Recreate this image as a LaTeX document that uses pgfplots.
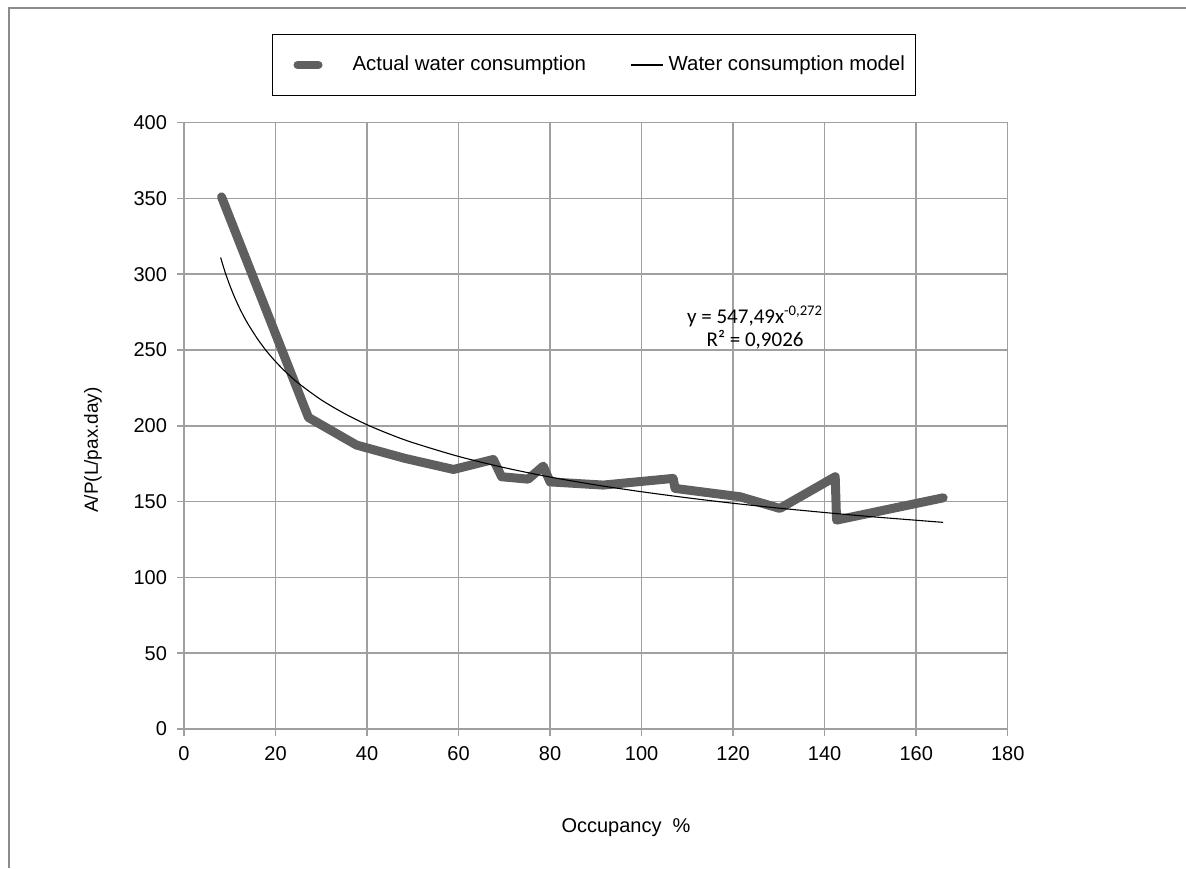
\documentclass[border=0pt]{standalone}
\usepackage{pgfplots}
\pgfplotsset{compat=1.18}
\usepackage{fontspec}
\setmainfont{Liberation Sans}
\newfontfamily\carlito{Carlito}
\definecolor{gridgray}{RGB}{160,160,160}
\definecolor{datagray}{RGB}{95,95,95}
\definecolor{framegray}{RGB}{140,140,140}
\begin{document}
\begin{tikzpicture}
\useasboundingbox (0,0) rectangle (593pt,434pt);
\draw[color=framegray, line width=0.75pt] (4.5pt,0pt) -- (4.5pt,430pt) -- (593pt,430pt);
\begin{axis}[
  at={(92pt,69.5pt)}, anchor=south west,
  scale only axis, width=411.85pt, height=303.2pt,
  xmin=0, xmax=180, ymin=0, ymax=400,
  xtick={0,20,...,180}, ytick={0,50,...,400},
  xtick pos=bottom, ytick pos=left,
  grid=major, grid style={color=gridgray, line width=0.75pt},
  axis line style={color=gridgray, line width=0.75pt},
  tick style={color=gridgray, line width=0.75pt},
  tick align=outside, major tick length=3.5pt,
  /pgf/number format/assume math mode=true,
  tick label style={font=\fontsize{10}{12}\selectfont, color=black},
  yticklabel style={xshift=-1.5pt},
  xticklabel style={yshift=-1.5pt},
  xlabel={Occupancy\ \ \%},
  ylabel={A/P(L/pax.day)},
  every axis x label/.style={at={(axis description cs:0.5366,-0.163)}, anchor=center, font=\fontsize{10}{12}\selectfont},
  every axis y label/.style={at={(axis description cs:-0.1105,0.46)}, anchor=center, rotate=90, font=\fontsize{9.5}{12}\selectfont},
  legend columns=2,
  legend style={at={(axis description cs:0.498,1.095)}, anchor=center, draw=black, line width=0.6pt,
    font=\fontsize{10.2}{12}\selectfont, inner xsep=3.5pt, inner ysep=8.75pt,
    /tikz/every even column/.append style={column sep=20pt}},
]
\addplot[color=datagray, line width=4.5pt, line join=round, line cap=round,
  legend image code/.code={\path[draw=none] (-7.5pt,0pt) -- (27pt,0pt); \draw[color=datagray, line width=4pt, line cap=round] (1.5pt,0pt) -- (12pt,0pt);}]
  coordinates {
  (8.2,351) (27.2,205.5) (37.7,187.3) (48.3,178.5) (58.9,171.2) (67.6,177.8)
  (69.4,166.4) (75.2,164.8) (78.5,173.4) (80.0,163.0) (91.6,160.9) (106.9,165.3)
  (107.3,158.7) (121.5,153.2) (130.2,145.5) (142.3,166.4) (142.6,137.8) (165.9,152.5)
  };
\addlegendentry{Actual water consumption}
\addplot[color=black, line width=0.55pt, smooth,
  legend image code/.code={\draw[color=black, line width=0.55pt] (0pt,0pt) -- (16pt,0pt); \path[draw=none] (0pt,0pt) -- (17pt,0pt);}]
  coordinates {
  (8,311.0) (9,301.2) (10,292.7) (11,285.2) (12,278.5) (13,272.5) (14,267.1)
  (16,257.6) (18,249.4) (20,242.4) (22,236.2) (25,228.1) (30,217.1) (35,208.2)
  (40,200.7) (45,194.4) (50,188.9) (60,179.8) (70,172.4) (80,166.2) (90,161.0)
  (100,156.5) (110,152.5) (120,148.9) (130,145.7) (140,142.8) (150,140.1)
  (160,137.7) (165.9,136.3)
  };
\addlegendentry{Water consumption model}
\node[font=\carlito\fontsize{10.5}{12}\selectfont, anchor=center] at (axis cs:124.8,272) {y = 547,49x\textsuperscript{-0,272}};
\node[font=\carlito\fontsize{10.5}{12}\selectfont, anchor=center] at (axis cs:124.8,256.6) {R² = 0,9026};
\end{axis}
\end{tikzpicture}
\end{document}
